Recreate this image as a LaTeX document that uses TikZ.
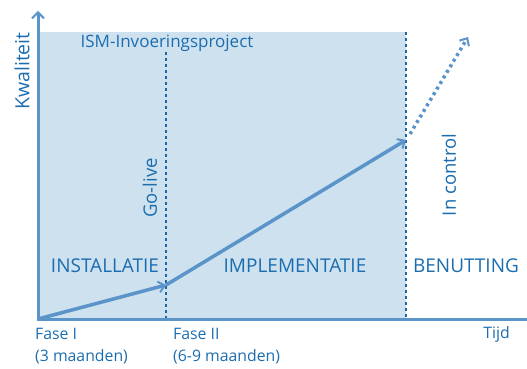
\documentclass[tikz,border=0pt]{standalone}
\usepackage{fontspec}
\setmainfont{Open Sans}
\usetikzlibrary{arrows.meta}
\definecolor{fillblue}{HTML}{CDE1EF}
\definecolor{lineblue}{HTML}{5B94C9}
\definecolor{textblue}{HTML}{1C6DAF}
\definecolor{dotblue}{HTML}{1E67A3}
\tikzset{
  axis/.style={line width=3pt, lineblue},
  growth/.style={line width=3.5pt, lineblue, -{Straight Barb[length=6pt,width=11pt,line width=2pt]}},
  phaseline/.style={line width=2pt, dotblue, dash pattern=on 3pt off 3pt},
  lbl/.style={text=textblue, inner sep=0pt, font=\fontsize{17}{19}\selectfont},
  vlbl/.style={lbl, rotate=90, font=\fontsize{18.5}{21}\selectfont},
  phase/.style={lbl, font=\fontsize{19}{22}\selectfont},
  small/.style={lbl, font=\fontsize{15.8}{18}\selectfont, anchor=west},
}
\begin{document}
\begin{tikzpicture}[x=1pt, y=-1pt]
\useasboundingbox (0,0) rectangle (527,369);
% project area
\fill[fillblue] (38,32) rectangle (406,318);
% phase separators
\coordinate (g0) at (166,52);
\coordinate (g1) at (166,318);
\coordinate (c0) at (406,32);
\coordinate (c1) at (406,318);
\draw[phaseline] (g0) -- (g1);
\draw[phaseline] (c0) -- (c1);
% axes
\coordinate (o) at (38,319);
\coordinate (ytop) at (38,11);
\coordinate (xend) at (527,319);
\draw[axis, -{Straight Barb[length=6pt,width=12pt,line width=2pt]}] (o) -- (ytop);
\draw[axis] (36.5,319) -- (xend);
% quality growth
\coordinate (p1) at (166,285);
\coordinate (p2) at (406,140);
\coordinate (p2b) at (410,134);
\coordinate (p3) at (468,37);
\draw[growth] (o) -- (p1);
\draw[growth] (p1) -- (p2);
\draw[lineblue, line width=3.5pt, dash pattern=on 3pt off 3.5pt, -{Straight Barb[length=6pt,width=11pt,line width=2pt]}] (p2b) -- (p3);
% labels
\node[lbl] (title) at (167,43) {ISM-Invoeringsproject};
\node[vlbl, font=\fontsize{19.5}{22}\selectfont] (kw) at (22,71) {Kwaliteit};
\node[vlbl] (golive) at (150,188) {Go-live};
\node[vlbl] (inctl) at (449,175) {In control};
\node[phase] (inst) at (105,266) {INSTALLATIE};
\node[phase] (impl) at (295,266) {IMPLEMENTATIE};
\node[phase] (benut) at (466,266) {BENUTTING};
\node[small] (f1) at (35,334) {Fase I};
\node[small] (f2) at (173,334) {Fase II};
\node[small] (m1) at (35,357) {(3 maanden)};
\node[small] (m2) at (173,357) {(6-9 maanden)};
\node[small, anchor=east] (tijd) at (510,334) {Tijd};
\end{tikzpicture}
\end{document}
